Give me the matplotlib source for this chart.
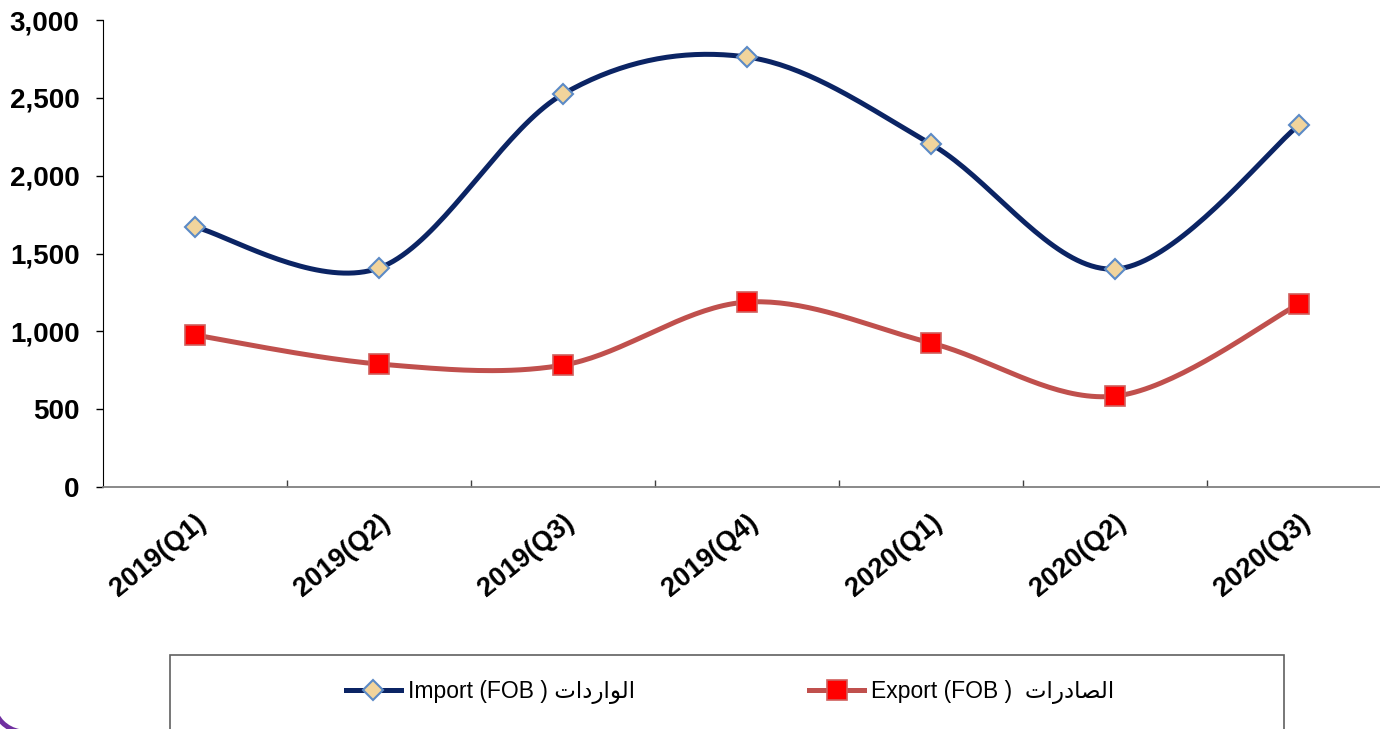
import numpy as np
from matplotlib import pyplot as plt
from matplotlib.lines import Line2D
from matplotlib.patches import Rectangle, Arc
from matplotlib.font_manager import FontProperties

quarters = ["2019(Q1)", "2019(Q2)", "2019(Q3)", "2019(Q4)",
            "2020(Q1)", "2020(Q2)", "2020(Q3)"]
imports = [1670, 1407, 2524, 2762, 2203, 1400, 2325]
exports = [976, 790, 783, 1188, 925, 584, 1175]
y_ticks = [0, 500, 1000, 1500, 2000, 2500, 3000]

# arabic words in presentation forms, visual order (matplotlib does no shaping)
ar_import = "\ufe95\ufe8d\ufea9\ufead\ufe8d\ufeee\ufedf\ufe8d"
ar_export = "\ufe95\ufe8d\ufead\ufea9\ufe8e\ufebc\ufedf\ufe8d"
import_label = "Import (FOB ) " + ar_import
export_label = "Export (FOB )  " + ar_export

navy = "#0b2464"
brick = "#c0504d"
fonts = ["Liberation Sans", "DejaVu Sans"]


def smooth(y, n=40):
    # excel-like smoothed line: catmull-rom bezier through the points
    x = np.arange(len(y), dtype=float)
    y = np.asarray(y, dtype=float)
    px = np.concatenate([[x[0]], x, [x[-1]]])
    py = np.concatenate([[y[0]], y, [y[-1]]])
    t = np.linspace(0, 1, n)[:, None]
    xs, ys = [], []
    for i in range(1, len(px) - 2):
        p0 = np.array([px[i], py[i]])
        p3 = np.array([px[i + 1], py[i + 1]])
        c1 = p0 + (np.array([px[i + 1], py[i + 1]]) - np.array([px[i - 1], py[i - 1]])) / 6
        c2 = p3 - (np.array([px[i + 2], py[i + 2]]) - np.array([px[i], py[i]])) / 6
        b = ((1 - t) ** 3) * p0 + 3 * ((1 - t) ** 2) * t * c1 + 3 * (1 - t) * t ** 2 * c2 + t ** 3 * p3
        xs.extend(b[:, 0])
        ys.extend(b[:, 1])
    return np.array(xs), np.array(ys)


fig = plt.figure(figsize=(13.8, 7.29), dpi=100)
W, H = 1380, 729
ax = fig.add_axes([103 / W, 1 - 487 / H, 1288 / W, 467 / H])

imp_style = dict(marker="D", markersize=10.5, markerfacecolor="#f1d49c",
                 markeredgecolor="#5b8ac6", markeredgewidth=1.5)
exp_style = dict(marker="s", markersize=14, markerfacecolor="#ff0000",
                 markeredgecolor="#d0605d", markeredgewidth=1.2)

x = np.arange(len(quarters))
sx, sy = smooth(imports)
ax.plot(sx, sy, color=navy, linewidth=3.6, solid_capstyle="round", zorder=3)
ax.plot(x, imports, linestyle="none", zorder=4, **imp_style)
sx, sy = smooth(exports)
ax.plot(sx, sy, color=brick, linewidth=3.6, solid_capstyle="round", zorder=3)
ax.plot(x, exports, linestyle="none", zorder=4, **exp_style)

ax.set_xlim(-0.5, len(quarters) - 0.5)
ax.set_ylim(0, 3000)
ax.set_yticks(y_ticks)
ax.set_yticklabels([f"{v:,}" for v in y_ticks], fontsize=20, fontweight="bold", family=fonts)
ax.tick_params(axis="y", direction="out", length=5, width=1, pad=12)

ax.set_xticks(x)
ax.set_xticklabels(quarters, rotation=39, ha="right", va="top", rotation_mode="anchor",
                   fontsize=19.5, fontweight="bold", family=fonts)
ax.tick_params(axis="x", which="major", length=0, pad=16)
ax.set_xticks(np.arange(0.5, len(quarters) - 0.5), minor=True)
ax.tick_params(axis="x", which="minor", direction="in", length=5, width=1, color="#404040")

for s in ["top", "right"]:
    ax.spines[s].set_visible(False)
ax.spines["left"].set_color("black")
ax.spines["bottom"].set_color("#808080")
ax.spines["bottom"].set_linewidth(1.3)

# legend box (runs off the bottom of the slide)
fig.patches.append(Rectangle((170 / W, -0.05), (1284 - 170) / W, 0.05 + (729 - 655) / H,
                             transform=fig.transFigure, fill=False,
                             edgecolor="#606060", linewidth=1.2))
handles = [
    Line2D([], [], color=navy, linewidth=3.6, **imp_style),
    Line2D([], [], color=brick, linewidth=3.6, **exp_style),
]
fig.legend(handles, [import_label, export_label], loc="center",
           bbox_to_anchor=(730 / W, 1 - 692 / H), ncol=2, frameon=False,
           prop=FontProperties(family=fonts, size=16.5),
           handlelength=2.4, handletextpad=0.3, columnspacing=7.6)

# purple corner of the slide frame
fig.patches.append(Arc((25 / W, 1 - 700 / H), 64 / W, 64 / H, theta1=195, theta2=265,
                       transform=fig.transFigure, color="#7030a0", linewidth=3.5))

fig.savefig("out.png", dpi=100)
